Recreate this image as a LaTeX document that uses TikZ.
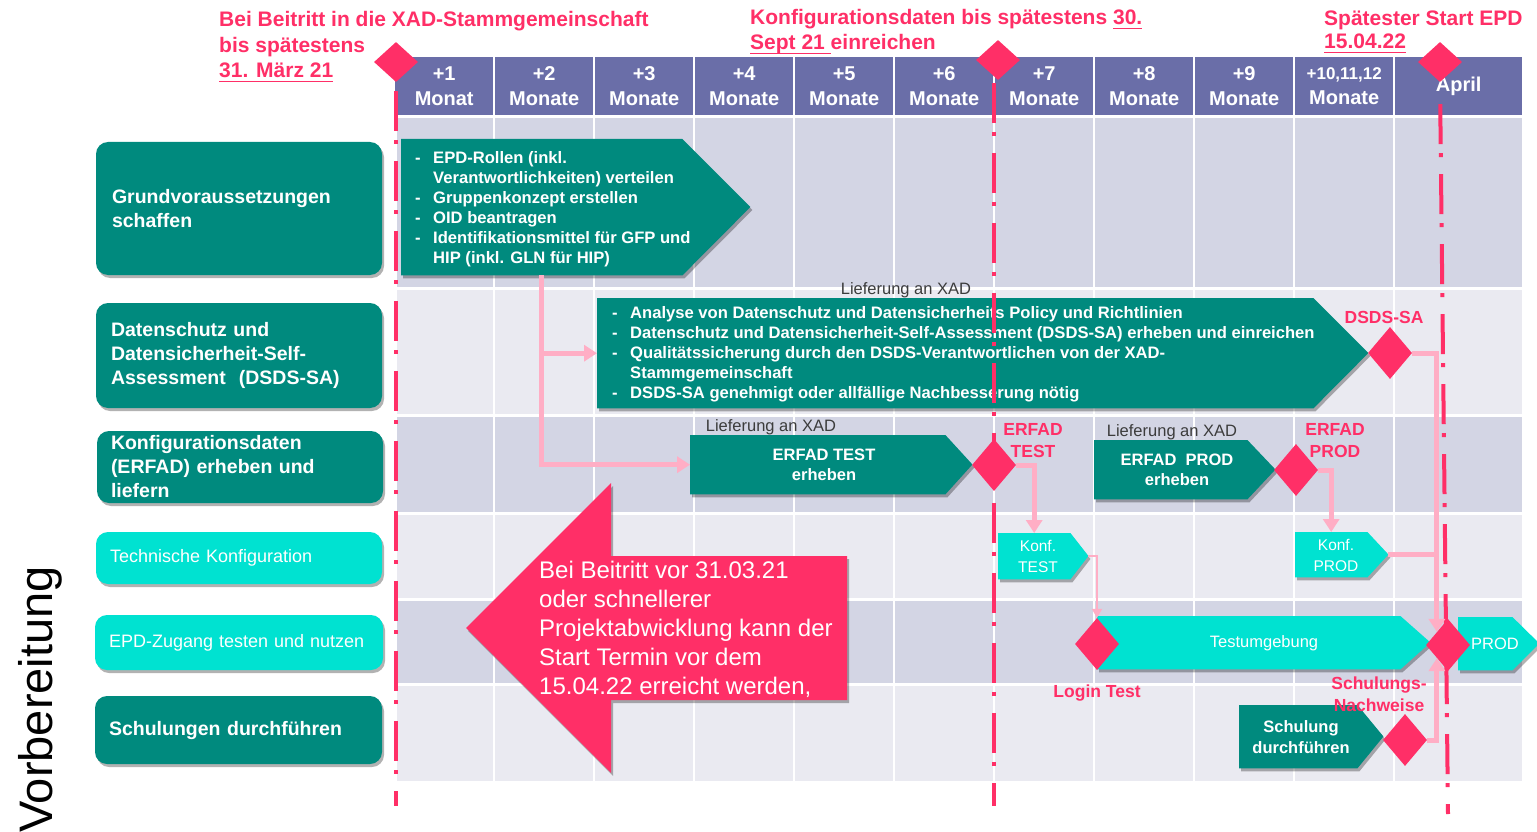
\documentclass[tikz,border=0pt]{standalone}
\usepackage{fontspec}
\setmainfont{Liberation Sans}
\usepackage{tikz}
\usetikzlibrary{arrows.meta, shapes.geometric, shadows, positioning}

\definecolor{epdteal}{HTML}{008A7E}
\definecolor{epdcyan}{HTML}{00E2D1}
\definecolor{epdred}{HTML}{FF2F67}
\definecolor{epdpink}{HTML}{FFAEC5}
\definecolor{epdpurple}{HTML}{6A6EA8}
\definecolor{banddark}{HTML}{D3D5E4}
\definecolor{bandlight}{HTML}{EAEAF1}
\definecolor{notegray}{HTML}{3C3C3C}

\newcommand{\listdash}{\makebox[18pt][l]{-}}
\newcommand{\listgap}{\makebox[18pt]{}}
\newsavebox{\datebox}
\newcommand{\datemark}[1]{\sbox{\datebox}{#1}\rlap{\rule[-4.5pt]{\wd\datebox}{1.6pt}}\usebox{\datebox}}

\tikzset{
    boxshadow/.style = {drop shadow={shadow xshift=2pt, shadow yshift=-3pt, opacity=0.3, fill=black}},
    phasenode/.style = {rectangle, rounded corners=12pt, boxshadow, inner xsep=14pt, inner ysep=0pt,
      align=left, text=white},
    darkphase/.style = {phasenode, fill=epdteal, font=\fontsize{19.5}{24}\selectfont\bfseries},
    lightphase/.style = {phasenode, fill=epdcyan, font=\fontsize{18}{22}\selectfont},
    monthnode/.style = {rectangle, fill=epdpurple, anchor=north west, minimum height=58pt, inner sep=0pt,
      text=white, align=center, font=\fontsize{20}{25}\selectfont\bfseries},
    barnode/.style = {rectangle, anchor=north west, inner sep=0pt},
    tealshape/.style = {fill=epdteal, boxshadow},
    cyanshape/.style = {fill=epdcyan, boxshadow},
    bartext/.style = {text=white, inner sep=0pt, align=left, font=\fontsize{16.6}{20}\selectfont\bfseries},
    barlabel/.style = {text=white, inner sep=0pt, align=center, font=\fontsize{16.5}{20.5}\selectfont\bfseries},
    cyanlabel/.style = {text=white, inner sep=0pt, align=center, font=\fontsize{15.5}{21}\selectfont},
    milestone/.style = {diamond, fill=epdred, inner sep=0pt, minimum width=44pt, minimum height=52pt},
    bigmilestone/.style = {milestone, minimum height=40pt},
    milestonetext/.style = {text=epdred, inner sep=0pt, align=center, font=\fontsize{17.5}{22}\selectfont\bfseries},
    deadlinetext/.style = {text=epdred, inner sep=0pt, align=left, anchor=north west,
      font=\fontsize{21}{25.5}\selectfont\bfseries},
    lieferung/.style = {text=notegray, inner sep=0pt, anchor=base, font=\fontsize{16.5}{20}\selectfont},
    callouttext/.style = {text=white, inner sep=0pt, align=left, anchor=north west, font=\fontsize{24}{29}\selectfont},
    deadline/.style = {epdred, line width=4pt, dash pattern=on 40pt off 9pt on 4pt off 17pt},
    flow/.style = {epdpink, line width=5pt, -{Triangle[width=16pt, length=13pt]}},
    thinflow/.style = {epdpink, line width=2.5pt, -{Triangle[width=10pt, length=9pt]}},
    flowline/.style = {epdpink, line width=5pt}
}

\begin{document}
\begin{tikzpicture}[x=1pt, y=-1pt]
    \useasboundingbox (0,0) rectangle (1537,832);
    \fill [white] (0,0) rectangle (1537,832);

    % phase title
    \node [rotate=90, anchor=base west, inner sep=0pt, font=\fontsize{47}{56}\selectfont, name=phase] at (52,833) {Vorbereitung};

    % deadlines above the time line
    \node [deadlinetext, name=beitritt] at (219,11.2) {Bei Beitritt in die XAD-Stammgemeinschaft\\bis spätestens\\\datemark{31. März 21}};
    \node [deadlinetext, name=konfigfrist, font=\fontsize{21}{25}\selectfont\bfseries] at (750,9.5) {Konfigurationsdaten bis spätestens \datemark{30.}\\\datemark{Sept 21 }einreichen};
    \node [deadlinetext, name=epdstart, font=\fontsize{21}{23.5}\selectfont\bfseries] at (1324,10.5) {Spätester Start EPD\\\datemark{15.04.22}};

    % months
    \node [monthnode, name=m1, minimum width=98pt] at (395,57) {+1\\Monat};
    \node [monthnode, name=m2, minimum width=98pt] at (495,57) {+2\\Monate};
    \node [monthnode, name=m3, minimum width=98pt] at (595,57) {+3\\Monate};
    \node [monthnode, name=m4, minimum width=98pt] at (695,57) {+4\\Monate};
    \node [monthnode, name=m5, minimum width=98pt] at (795,57) {+5\\Monate};
    \node [monthnode, name=m6, minimum width=98pt] at (895,57) {+6\\Monate};
    \node [monthnode, name=m7, minimum width=98pt] at (995,57) {+7\\Monate};
    \node [monthnode, name=m8, minimum width=98pt] at (1095,57) {+8\\Monate};
    \node [monthnode, name=m9, minimum width=98pt] at (1195,57) {+9\\Monate};
    \node [monthnode, name=m10, minimum width=98pt] at (1295,57) {{\fontsize{17}{21}\selectfont +10,11,12}\\Monate};
    \node [monthnode, name=m11, minimum width=127pt] at (1395,57) {April};

    % rows
    \fill [banddark]  (397,118) rectangle (1522,287);
    \fill [bandlight] (397,290) rectangle (1522,414);
    \fill [banddark]  (397,417) rectangle (1522,512);
    \fill [bandlight] (397,515) rectangle (1522,598);
    \fill [banddark]  (397,601) rectangle (1522,683);
    \fill [bandlight] (397,686) rectangle (1522,781);
    \foreach \x in {494,594,...,1394}
        \draw [white, line width=2pt] (\x,118) -- (\x,781);

    % work packages
    \node [darkphase, name=grundphase, minimum width=286pt, minimum height=133pt, inner xsep=16pt, text width=254pt] at (239,208.5) {Grundvoraussetzungen\\schaffen};
    \node [darkphase, name=datenphase, minimum width=286pt, minimum height=105pt, inner xsep=15pt, text width=256pt] at (239,355.5) {Datenschutz und\\Datensicherheit-Self-\\Assessment\ \ (DSDS-SA)};
    \node [darkphase, name=konfigphase, minimum width=286pt, minimum height=72pt, text width=258pt] at (240,467) {Konfigurationsdaten\\(ERFAD) erheben und\\liefern};
    \node [lightphase, name=technikphase, minimum width=286pt, minimum height=52pt, text width=258pt] at (239,558) {Technische Konfiguration};
    \node [lightphase, name=zugangphase, minimum width=288pt, minimum height=55pt, text width=260pt] at (239,642.5) {EPD-Zugang testen und nutzen};
    \node [darkphase, name=schulungphase, minimum width=287pt, minimum height=68pt, text width=259pt] at (238.5,730) {Schulungen durchführen};

    % note on an earlier start
    \path [fill=epdred, boxshadow] (847,556) -- (611,556) -- (611,483) -- (466,628) -- (611,773) -- (611,700) -- (847,700) -- cycle;
    \node [callouttext, name=callout] at (539,560.5) {Bei Beitritt vor 31.03.21\\oder schnellerer\\Projektabwicklung kann der\\Start Termin vor dem\\15.04.22 erreicht werden,};

    % tasks
    \node [barnode, name=grundbar, minimum width=281pt, minimum height=136pt] at (401,139) {};
    \fill [tealshape] (grundbar.north west) -- (grundbar.north east) -- ++(68,68) -- (grundbar.south east) -- (grundbar.south west) -- cycle;
    \node [bartext, name=grundtext, anchor=west] at (415,209) {\listdash EPD-Rollen (inkl.\\\listgap Verantwortlichkeiten) verteilen\\\listdash Gruppenkonzept erstellen\\\listdash OID beantragen\\\listdash Identifikationsmittel für GFP und\\\listgap HIP (inkl. GLN für HIP)};

    \node [barnode, name=datenbar, minimum width=716pt, minimum height=110pt] at (597,298) {};
    \fill [tealshape] (datenbar.north west) -- (datenbar.north east) -- ++(55,55) -- (datenbar.south east) -- (datenbar.south west) -- cycle;
    \node [bartext, name=datentext, anchor=west] at (612,354) {\listdash Analyse von Datenschutz und Datensicherheits Policy und Richtlinien\\\listdash Datenschutz und Datensicherheit-Self-Assessment (DSDS-SA) erheben und einreichen\\\listdash Qualitätssicherung durch den DSDS-Verantwortlichen von der XAD-\\\listgap Stammgemeinschaft\\\listdash DSDS-SA genehmigt oder allfällige Nachbesserung nötig};

    \node [barnode, name=erfadtestbar, minimum width=255pt, minimum height=59pt] at (690,435) {};
    \fill [tealshape] (erfadtestbar.north west) -- (erfadtestbar.north east) -- ++(27,29.5) -- (erfadtestbar.south east) -- (erfadtestbar.south west) -- cycle;
    \node [barlabel, name=erfadtesttext] at (824,465) {ERFAD TEST\\erheben};

    \node [barnode, name=erfadprodbar, minimum width=153pt, minimum height=59pt] at (1094,440) {};
    \fill [tealshape] (erfadprodbar.north west) -- (erfadprodbar.north east) -- ++(28,29.5) -- (erfadprodbar.south east) -- (erfadprodbar.south west) -- cycle;
    \node [barlabel, name=erfadprodtext] at (1177,470) {ERFAD\ \ PROD\\erheben};

    \node [barnode, name=konftestbar, minimum width=72pt, minimum height=46pt] at (998,533) {};
    \fill [cyanshape] (konftestbar.north west) -- (konftestbar.north east) -- ++(18,23) -- (konftestbar.south east) -- (konftestbar.south west) -- cycle;
    \node [cyanlabel, name=konftesttext] at (1038,556) {Konf.\\TEST};

    \node [barnode, name=konfprodbar, minimum width=72pt, minimum height=45pt] at (1295,532) {};
    \fill [cyanshape] (konfprodbar.north west) -- (konfprodbar.north east) -- ++(21,22.5) -- (konfprodbar.south east) -- (konfprodbar.south west) -- cycle;
    \node [cyanlabel, name=konfprodtext] at (1336,555) {Konf.\\PROD};

    \node [barnode, name=testbar, minimum width=303pt, minimum height=53pt] at (1097,616) {};
    \fill [cyanshape] (testbar.north west) -- (testbar.north east) -- ++(30,26.5) -- (testbar.south east) -- (testbar.south west) -- cycle;
    \node [cyanlabel, name=testtext, font=\fontsize{16.5}{20}\selectfont] at (1264,643) {Testumgebung};

    \node [barnode, name=prodbar, minimum width=54pt, minimum height=53pt] at (1458,617) {};
    \fill [cyanshape] (prodbar.north west) -- (prodbar.north east) -- ++(27,26.5) -- (prodbar.south east) -- (prodbar.south west) -- cycle;
    \node [cyanlabel, name=prodtext, font=\fontsize{16.5}{20}\selectfont] at (1495,644) {PROD};

    \node [barnode, name=schulungbar, minimum width=118pt, minimum height=63pt] at (1239,705) {};
    \fill [tealshape] (schulungbar.north west) -- (schulungbar.north east) -- ++(26,31.5) -- (schulungbar.south east) -- (schulungbar.south west) -- cycle;
    \node [barlabel, name=schulungtext] at (1301,737) {Schulung\\durchführen};

    \node [lieferung, name=datenlieferung] at (906,294) {Lieferung an XAD};
    \node [lieferung, name=testlieferung] at (771,431) {Lieferung an XAD};
    \node [lieferung, name=prodlieferung] at (1172,436) {Lieferung an XAD};

    % milestones
    \node [bigmilestone, name=startdia] at (396,62) {};
    \node [bigmilestone, name=konfigdia] at (998,60) {};
    \node [bigmilestone, name=epddia] at (1440,62) {};
    \node [milestone, name=dsdsdia] at (1390,353) {};
    \node [milestone, name=erfadtestdia] at (994,465) {};
    \node [milestone, name=erfadproddia] at (1296,470) {};
    \node [milestone, name=logindia] at (1097,644) {};
    \node [milestone, name=proddia] at (1448,645) {};
    \node [milestone, name=nachweisdia] at (1405,740) {};

    \coordinate (startend) at (396,806);
    \coordinate (konfigend) at (994,806);
    \coordinate (epdend) at (1448,814);
    \draw [deadline, shorten <=9pt] (startdia.south) -- (startend);
    \draw [deadline, shorten <=3pt] (erfadtestdia |- konfigdia.south) -- (konfigend);
    \draw [deadline, shorten <=22pt] (epddia.south) -- (epdend);

    % dependencies
    \draw [flow] (grundbar.south) |- (datenbar.west);
    \draw [flow] (grundbar.south) |- (erfadtestbar.west);
    \draw [flow] (erfadtestdia.east) -| (konftestbar.north);
    \draw [thinflow] ([xshift=18pt]konftestbar.east) -| (logindia.north);
    \draw [flow] (erfadproddia.east) -| (konfprodbar.north);
    \draw [flow] (dsdsdia.east) -| (proddia.north west);
    \draw [flowline] ([xshift=21pt]konfprodbar.east) -- (konfprodbar.east -| proddia.north west);
    \draw [flow] (nachweisdia.east) -| (proddia.south west);

    \node [milestonetext, name=dsdslabel, anchor=base] at (1384,323) {DSDS-SA};
    \node [milestonetext, name=erfadtestlabel] at (1033,441) {ERFAD\\TEST};
    \node [milestonetext, name=erfadprodlabel] at (1335,441) {ERFAD\\PROD};
    \node [milestonetext, name=loginlabel, anchor=base] at (1097,697) {Login Test};
    \node [milestonetext, name=nachweislabel] at (1379,694) {Schulungs-\\Nachweise};
\end{tikzpicture}
\end{document}
